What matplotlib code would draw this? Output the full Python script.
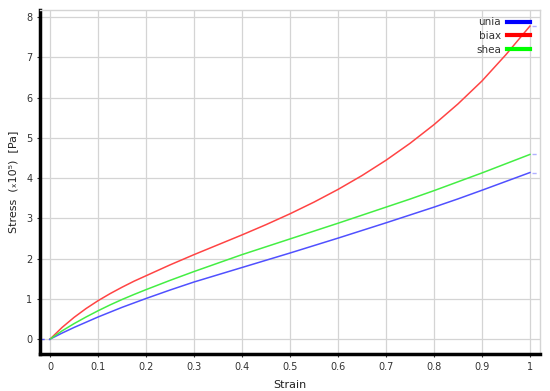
import matplotlib
matplotlib.use("Agg")
import matplotlib.pyplot as plt

# strain points and stress (x10^5 Pa)
strain = [0, 0.025, 0.05, 0.075, 0.1, 0.125, 0.15, 0.175, 0.2, 0.25, 0.3,
          0.35, 0.4, 0.45, 0.5, 0.55, 0.6, 0.65, 0.7, 0.75, 0.8, 0.85, 0.9,
          0.95, 1.0]
unia = [0, 0.15, 0.29, 0.42, 0.55, 0.67, 0.79, 0.90, 1.01, 1.22, 1.42,
        1.60, 1.78, 1.96, 2.14, 2.325, 2.51, 2.70, 2.89, 3.085, 3.28, 3.485,
        3.70, 3.92, 4.14]
biax = [0, 0.29, 0.54, 0.76, 0.955, 1.13, 1.29, 1.44, 1.575, 1.845, 2.10,
        2.345, 2.59, 2.845, 3.115, 3.405, 3.72, 4.065, 4.445, 4.865, 5.33,
        5.845, 6.415, 7.07, 7.78]
shea = [0, 0.205, 0.385, 0.55, 0.705, 0.85, 0.985, 1.11, 1.23, 1.46, 1.68,
        1.89, 2.10, 2.295, 2.49, 2.685, 2.88, 3.08, 3.28, 3.48, 3.69, 3.91,
        4.13, 4.36, 4.59]

x_ticks = [0, 0.1, 0.2, 0.3, 0.4, 0.5, 0.6, 0.7, 0.8, 0.9, 1]
x_labels = ["0", "0.1", "0.2", "0.3", "0.4", "0.5", "0.6", "0.7", "0.8", "0.9", "1"]
y_ticks = [0, 1, 2, 3, 4, 5, 6, 7, 8]

series = [("unia", unia, "#5050ff", "#0000ff"),
          ("biax", biax, "#ff4444", "#ff0000"),
          ("shea", shea, "#44ee44", "#00ff00")]

fig = plt.figure(figsize=(5.5, 3.91), dpi=100)
ax = fig.add_axes([0.0727, 0.0946, 0.9091, 0.8798])

grid_c = "#d4d4d4"
ax.grid(True, color=grid_c, linewidth=0.9)
ax.set_axisbelow(True)

for name, vals, col, leg_col in series:
    ax.plot(strain, vals, color=col, linewidth=1.1)
    # legend handle drawn with full colour, thicker
    ax.plot([], [], color=leg_col, linewidth=3, label=name)
    # little dashed stub past the end of the data
    ax.plot([strain[-1] + 0.004, 1.022], [vals[-1], vals[-1]], color="#b0b0ff",
            linewidth=1.0, linestyle=(0, (3, 3)))

# dashed stub before the origin
ax.plot([-0.022, strain[0]], [unia[0], unia[0]], color="#6060ff",
        linewidth=1.0, linestyle=(0, (3, 3)))

ax.set_xlim(-0.021, 1.021)
ax.set_ylim(-0.37, 8.18)
ax.set_xticks(x_ticks)
ax.set_xticklabels(x_labels)
ax.set_yticks(y_ticks)

for s in ("left", "bottom"):
    ax.spines[s].set_linewidth(2.5)
    ax.spines[s].set_color("black")
for s in ("top", "right"):
    ax.spines[s].set_linewidth(1.0)
    ax.spines[s].set_color(grid_c)

ax.tick_params(axis="both", labelsize=7, colors="#333333", length=2.5,
               width=0.8, pad=3)

ax.set_xlabel("Strain", fontsize=8, color="#222222", labelpad=6)
ax.set_ylabel("Stress  (\u209310\u2075)  [Pa]", fontsize=8, color="#222222",
              labelpad=6)

leg = ax.legend(loc="upper right", frameon=False, markerfirst=False,
                fontsize=7.5, handlelength=2.2, handletextpad=0.6,
                labelspacing=0.35, borderaxespad=0.3,
                bbox_to_anchor=(0.995, 1.0))
for t in leg.get_texts():
    t.set_color("#333333")

fig.savefig("out.png", dpi=100)
